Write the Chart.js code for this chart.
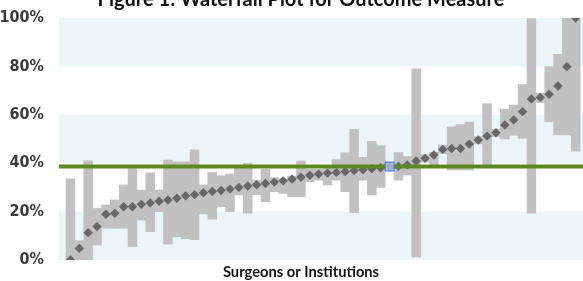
<!DOCTYPE html>
<html>
<head>
<meta charset="utf-8">
<script src="https://cdn.jsdelivr.net/npm/chart.js@4"></script>
<style>
  html, body { margin: 0; padding: 0; background: #fff; overflow: hidden; }
</style>
</head>
<body>
<canvas id="waterfall" width="583" height="281"></canvas>
<script>
// one entry per surgeon / institution, sorted by outcome rate
const providers = [
   0,  1,  2,  3,  4,  5,  6,  7,  8,  9,
  10, 11, 12, 13, 14, 15, 16, 17, 18, 19,
  20, 21, 22, 23, 24, 25, 26, 27, 28, 29,
  30, 31, 32, 33, 34, 35, 36, 37, 38, 39,
  40, 41, 42, 43, 44, 45, 46, 47, 48, 49,
  50, 51, 52, 53, 54, 55, 56, 57
];
const rates = [
   0.0,  4.8, 11.3, 13.8, 18.9, 19.3, 22.0, 22.0, 23.0, 23.6,
  24.3, 24.8, 25.5, 26.5, 27.0, 27.8, 28.3, 28.7, 29.3, 30.0,
  30.6, 31.1, 31.6, 32.2, 32.7, 33.4, 34.2, 35.0, 35.5, 35.9,
  36.2, 36.6, 37.0, 37.3, 37.7, 38.1, 38.6, 38.7, 39.3, 40.9,
  42.0, 43.4, 45.7, 46.1, 46.1, 47.9, 49.6, 51.2, 52.6, 55.8,
  57.9, 61.3, 66.5, 67.2, 68.5, 71.9, 79.9, 100.0
];
const lower = [
   0.0,  0.0,  0.0,  6.2, 13.1, 13.1, 13.1,  5.5, 16.5, 11.7,
  20.0,  6.5,  9.6,  8.8,  8.4, 19.0, 16.9, 22.0, 20.0, 26.9,
  19.3, 27.0, 24.1, 28.2, 27.5, 26.2, 26.2, 32.4, 33.0, 31.0,
  33.0, 28.2, 19.6, 33.0, 26.9, 30.0, null, 33.0, 35.1,  1.2,
  40.5, 38.5, 44.0, 37.2, 37.2, 37.2, 48.0, 39.3, 51.0, 50.0,
  51.5, 50.3, 19.3, 65.0, 57.1, 51.7, 51.7, 45.0
];
const upper = [
  33.5,  8.0, 41.0, 21.3, 22.7, 24.8, 31.0, 37.8, 28.9, 36.0,
  28.9, 41.3, 40.6, 40.6, 45.5, 31.0, 36.2, 34.8, 35.5, 37.9,
  39.9, 33.0, 37.5, 34.0, 33.5, 34.7, 40.9, 37.5, 37.5, 38.0,
  41.5, 44.3, 54.0, 42.4, 49.0, 47.3, null, 44.4, 42.8, 79.0,
  43.5, 44.5, 47.5, 55.0, 56.0, 57.0, 51.0, 64.6, 54.0, 62.3,
  64.0, 72.5, 99.8, 69.0, 79.9, 85.0, 100.0, 100.0
];
const benchmark = 38.6;
const highlighted = [36];
const yTicks = [0, 20, 40, 60, 80, 100];
const shadedBands = [[0, 20], [40, 60], [80, 100]];

const xMin = -1.29;
const xMax = 57.82;

const bandsAndText = {
    id: 'bandsAndText',
    beforeDatasetsDraw(chart) {
        const { ctx, chartArea, scales } = chart;
        ctx.save();
        ctx.fillStyle = '#eef5f7';
        shadedBands.forEach(b => {
            const top = scales.y.getPixelForValue(b[1]);
            const bottom = scales.y.getPixelForValue(b[0]);
            ctx.fillRect(chartArea.left, top, chartArea.right - chartArea.left, bottom - top);
        });
        ctx.restore();
    },
    afterDraw(chart) {
        const ctx = chart.ctx;
        ctx.save();
        ctx.fillStyle = '#111';
        ctx.textAlign = 'center';
        ctx.textBaseline = 'alphabetic';
        ctx.font = 'bold 20px Lato, "Open Sans", sans-serif';
        ctx.fillText('Figure 1: Waterfall Plot for Outcome Measure', 301, 5.5);
        ctx.font = 'bold 14.7px Lato, "Open Sans", sans-serif';
        ctx.fillText('Surgeons or Institutions', 301, 276.5);
        ctx.restore();
    }
};

const chartCanvas = document.getElementById('waterfall');
new Chart(chartCanvas.getContext('2d'), {
    data: {
        datasets: [
            {
                type: 'line',
                label: 'Highlighted',
                data: highlighted.map(i => ({ x: providers[i], y: rates[i] })),
                showLine: false,
                pointStyle: 'rect',
                pointRadius: 6.3,
                pointBackgroundColor: 'rgba(170,185,225,0.85)',
                pointBorderColor: '#3b6fe0',
                pointBorderWidth: 1,
                order: 0
            },
            {
                type: 'line',
                label: 'Benchmark',
                data: [{ x: xMin, y: benchmark }, { x: xMax, y: benchmark }],
                borderColor: '#5a8a1e',
                borderWidth: 4,
                pointRadius: 0,
                order: 1
            },
            {
                type: 'line',
                label: 'Rate',
                data: providers.map((p, i) => ({ x: p, y: rates[i] })),
                showLine: false,
                pointStyle: 'rectRot',
                pointRadius: 4.7,
                pointBackgroundColor: '#676767',
                pointBorderWidth: 0,
                order: 2
            },
            {
                type: 'bar',
                label: 'Range',
                data: providers.map((p, i) => ({ x: p, y: lower[i] === null ? null : [lower[i], upper[i]] })),
                backgroundColor: '#c1c1c1',
                borderWidth: 0,
                barPercentage: 1,
                categoryPercentage: 1,
                order: 3
            }
        ]
    },
    options: {
        responsive: false,
        animation: false,
        layout: { autoPadding: false, padding: { top: 18, bottom: 21, left: 0, right: 0 } },
        plugins: {
            legend: { display: false },
            tooltip: { enabled: false },
            title: { display: false }
        },
        scales: {
            x: { type: 'linear', min: xMin, max: xMax, offset: false, display: false },
            y: {
                min: 0,
                max: 100,
                afterBuildTicks: s => { s.ticks = yTicks.map(v => ({ value: v })); },
                afterFit: s => {
                    s.width = 59;
                    // labels may overhang the plot, don't shrink it for them
                    s.paddingTop = 0;
                    s.paddingBottom = 0;
                },
                ticks: {
                    padding: 15,
                    color: '#3c3c3c',
                    font: { family: '"Liberation Sans Narrow", "DejaVu Sans Condensed", Roboto, sans-serif', size: 16, weight: 'bold' },
                    callback: v => v + '%'
                },
                grid: { display: false, drawTicks: false },
                border: { display: false }
            }
        }
    },
    plugins: [bandsAndText]
});
</script>
</body>
</html>
